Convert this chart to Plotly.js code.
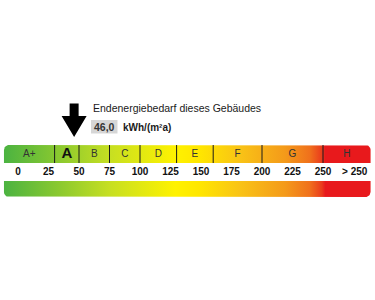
<!DOCTYPE html>
<html><head><meta charset="utf-8">
<script src="https://cdn.plot.ly/plotly-3.0.1.min.js"></script>
<style>html,body{margin:0;padding:0;background:#fff}</style>
</head><body><div id="chart" style="width:375px;height:300px"></div>
<script>
// ---- data ----
const classes = ['A+','A','B','C','D','E','F','G','H'];
const classBounds = [-11.5, 30, 50, 75, 100, 130, 160, 200, 250, 289];
const tickValues = [0, 25, 50, 75, 100, 125, 150, 175, 200, 225, 250, 276];
const tickLabels = ['0','25','50','75','100','125','150','175','200','225','250','> 250'];
const gradientAt = [-11.5, 34, 75, 129, 149, 182, 219, 239, 249, 252, 289];
const gradientColors = ['#4bb341','#8bc92f','#c6df22','#fff200','#ffe600','#f9c316','#f49a1a','#f0711c','#ea3c1c','#e8191c','#e8191c'];
const demandValue = 46.0;
const activeClass = 'A';
const titleText = 'Endenergiebedarf dieses Gebäudes';
const unitLabel = 'kWh/(m²a)';

// ---- layout helpers ----
const W = 375, H = 300;
const originPx = 18, pxPerUnit = 1.22;
const xRange = [-originPx / pxPerUnit, (W - originPx) / pxPerUnit];
const u = px => px / pxPerUnit; // pixel length -> axis units
const vMin = classBounds[0], vMax = classBounds[classBounds.length - 1];
const colorscale = gradientAt.map((v, i) => [(v - vMin) / (vMax - vMin), gradientColors[i]]);

function arc(pts, cx, cy, r, a0, a1) {
  const n = 8;
  for (let i = 0; i <= n; i++) {
    const a = (a0 + (a1 - a0) * i / n) * Math.PI / 180;
    pts.push([cx + u(r) * Math.cos(a), cy + r * Math.sin(a)]);
  }
}
function bar(x0, x1, y0, y1, r, roundTop) {
  const pts = [];
  if (roundTop) {
    arc(pts, x0 + u(r), y0 + r, r, 180, 270);
    arc(pts, x1 - u(r), y0 + r, r, 270, 360);
    pts.push([x1, y1], [x0, y1]);
  } else {
    pts.push([x0, y0], [x1, y0]);
    arc(pts, x1 - u(r), y1 - r, r, 0, 90);
    arc(pts, x0 + u(r), y1 - r, r, 90, 180);
  }
  pts.push(pts[0]);
  return {
    x: pts.map(p => p[0]), y: pts.map(p => p[1]),
    type: 'scatter', mode: 'lines', fill: 'toself', line: {width: 0},
    fillgradient: {type: 'horizontal', colorscale: colorscale},
    hoverinfo: 'skip'
  };
}

const topBar = bar(vMin, vMax, 145, 163, 5, true);
const bottomBar = bar(vMin, vMax, 181, 197, 5, false);

const centers = classes.map((c, i) => (classBounds[i] + classBounds[i + 1]) / 2);
const classText = {
  x: centers, y: classes.map(() => 154.5),
  text: classes.map(c => c === activeClass ? '<b>' + c + '</b>' : c),
  type: 'scatter', mode: 'text',
  textfont: {family: 'Liberation Sans, Arial', size: classes.map(c => c === activeClass ? 15 : 10), color: classes.map(c => c === activeClass ? '#111' : '#333')},
  hoverinfo: 'skip'
};
const tickText = {
  x: tickValues, y: tickValues.map(() => 172.5), text: tickLabels,
  type: 'scatter', mode: 'text',
  textfont: {family: 'Liberation Sans, Arial', size: 10, color: '#111', weight: 'bold'},
  hoverinfo: 'skip'
};

// arrow marking the demand value
const sh = 4.5, hh = 12.5;
const arrow = {
  x: [demandValue - u(sh), demandValue + u(sh), demandValue + u(sh), demandValue + u(hh), demandValue, demandValue - u(hh), demandValue - u(sh), demandValue - u(sh)],
  y: [103.5, 103.5, 116, 116, 137, 116, 116, 103.5],
  type: 'scatter', mode: 'lines', fill: 'toself', fillcolor: '#000', line: {width: 0, color: '#000'},
  hoverinfo: 'skip'
};

const shapes = classBounds.slice(1, -1).map(b => ({
  type: 'line', xref: 'x', yref: 'y', x0: b, x1: b, y0: 145, y1: 163,
  line: {color: '#1a1a1a', width: 1}
}));
shapes.push({type: 'rect', xref: 'paper', yref: 'y', x0: 91 / W, x1: 117.5 / W, y0: 120, y1: 133.5,
  fillcolor: '#d6d6d6', line: {width: 0}, layer: 'below'});

const annotations = [
  {xref: 'paper', yref: 'y', x: 91 / W, y: 107.5, xanchor: 'left', yanchor: 'middle', showarrow: false,
   text: titleText, font: {family: 'Liberation Sans, Arial', size: 10.5, color: '#1a1a1a'}},
  {xref: 'paper', yref: 'y', x: 104.5 / W, y: 127, xanchor: 'center', yanchor: 'middle', showarrow: false,
   text: '<b>' + demandValue.toFixed(1).replace('.', ',') + '</b>', font: {family: 'Liberation Sans, Arial', size: 10.5, color: '#333'}},
  {xref: 'paper', yref: 'y', x: 120.5 / W, y: 127.5, xanchor: 'left', yanchor: 'middle', showarrow: false,
   text: '<b>' + unitLabel + '</b>', font: {family: 'Liberation Sans, Arial', size: 10, color: '#1a1a1a'}}
];

Plotly.newPlot('chart', [topBar, bottomBar, arrow, classText, tickText], {
  width: W, height: H, margin: {l: 0, r: 0, t: 0, b: 0},
  paper_bgcolor: '#fff', plot_bgcolor: '#fff', showlegend: false,
  xaxis: {range: xRange, visible: false, fixedrange: true},
  yaxis: {range: [H, 0], visible: false, fixedrange: true},
  shapes: shapes, annotations: annotations
}, {staticPlot: true, displayModeBar: false});
</script></body></html>
